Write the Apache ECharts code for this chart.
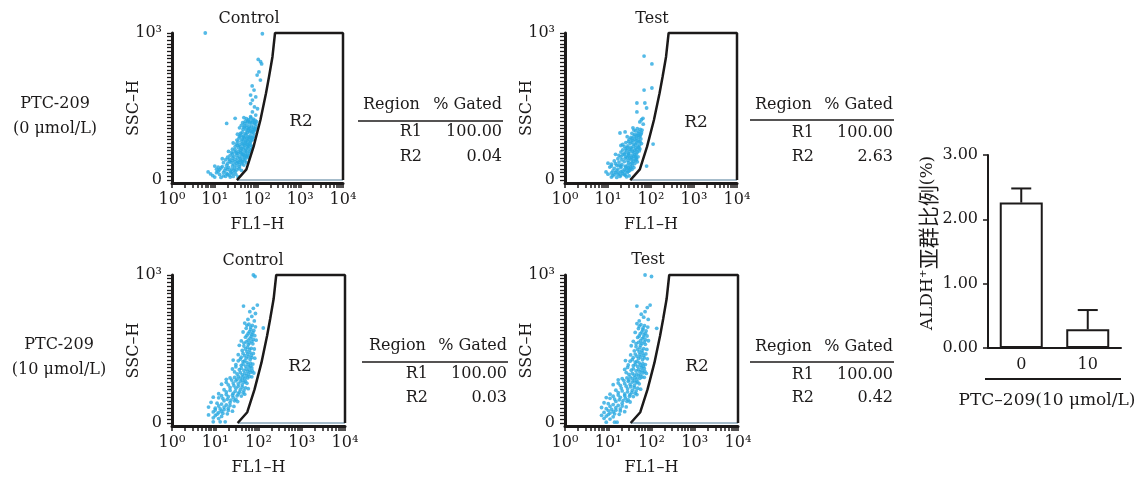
<!DOCTYPE html>
<html><head><meta charset="utf-8">
<script src="https://cdn.jsdelivr.net/npm/echarts@6/dist/echarts.min.js"></script>
<style>html,body{margin:0;padding:0;background:#fff}#c{width:1144px;height:481px}</style>
</head><body><div id="c"></div>
<script>
// ---------- data ----------
const panelTitles = ['Control', 'Test', 'Control', 'Test'];
const rowLabels = [['PTC-209', '(0 \u03bcmol/L)'], ['PTC-209', '(10 \u03bcmol/L)']];
const fl1TickLabels = ['10\u2070', '10\u00b9', '10\u00b2', '10\u00b3', '10\u2074'];
const fl1TickValues = [1, 10, 100, 1000, 10000];
const sscTickLabels = ['0', '10\u00b3'];
const sscTickValues = [0, 1000];
const gateName = 'R2';
// gate R2 polygon (FL1, SSC)
const gateR2 = [[33,0],[55,73],[81,227],[117,408],[158,590],[186,703],[224,839],[257,1000],[10000,1000],[10000,0]];
const gateBase = [[10000,0],[33,0]];
const regionNames = ['R1', 'R2'];
const gatedR1 = ['100.00', '100.00', '100.00', '100.00'];
const gatedR2 = ['0.04', '2.63', '0.03', '0.42'];

// events: [FL1-H, SSC-H]
const ctrl0 = [[6,1000],[130,995],[104,820],[118,805],[125,790],[108,735],[98,714],[117,680],[75,640],[83,612],[69,578],[91,565],[76,544],[69,520],[85,497],[100,485],[76,463],[91,442],[69,431],[30,420],[19,385],
[48,425],[55,418],[62,410],[70,422],[80,415],[88,405],[95,398],[58,395],[66,388],[75,392],[84,383],[50,384],[92,380],
[42,372],[50,366],[57,374],[64,362],[72,368],[80,358],[88,350],[46,345],[54,340],[62,348],[70,335],[78,330],[86,338],[44,325],[58,322],[66,328],[92,362],[38,355],
[34,312],[40,305],[47,300],[54,310],[60,295],[68,302],[75,290],[82,298],[37,285],[44,278],[50,288],[57,272],[64,280],[71,268],[78,275],[42,265],[35,262],[52,262],
[27,252],[32,246],[38,240],[44,250],[50,236],[56,244],[63,230],[70,238],[76,226],[30,228],[36,220],[42,214],[48,224],[54,210],[60,218],[67,205],[26,210],[40,203],[73,212],
[21,195],[25,188],[30,192],[35,180],[40,186],[46,175],[52,183],[58,170],[64,178],[23,168],[28,162],[33,170],[38,158],[44,165],[50,155],[56,160],[62,152],[20,155],
[15,145],[18,138],[22,142],[26,132],[30,140],[35,128],[40,135],[45,122],[50,130],[55,118],[16,118],[20,112],[24,120],[28,108],[33,115],[38,104],[43,110],[48,102],
[10,95],[12,88],[15,92],[18,80],[21,86],[25,75],[29,82],[33,70],[37,78],[42,66],[13,70],[17,64],[23,62],[11,74],
[7,55],[8,42],[9,30],[11,50],[13,38],[16,28],[19,45],[22,33],[27,25],[31,40],[10,20],[14,18],[24,52],[35,22],
[52,400],[60,402],[68,396],[78,404],[86,392],[45,390],[56,356],[66,352],[76,346],[84,344],[48,358],[60,336],[74,322],[82,318],[52,316],[40,318],[46,292],[56,286],[66,290],[72,284],[38,296],[48,272],[60,264],[68,258],[33,272],[46,244],[52,252],[60,240],[66,248],[34,236],[40,228],[58,226],[46,212],[52,200],[64,194],[30,206],[36,196],[44,192],[56,192],[26,178],[32,184],[42,178],[48,170],[54,164],[26,150],[34,150],[40,146],[46,142],[52,144],[22,128],[30,124],[36,120],[42,126],[19,100],[26,96],[32,96],[38,90],[14,82],[20,72],[28,66],[16,52],[20,38],[26,44],[30,58],[12,60],[18,26],[23,20]];

const test0 = [[69,843],[105,790],[69,612],[105,626],[47,524],[72,524],[79,490],[47,463],[65,420],[19,320],[25,327],[112,245],[79,95],[60,410],[55,395],[66,380],
[38,355],[48,350],[56,345],[62,340],[44,335],[52,330],[60,322],[36,318],[42,310],[50,305],[58,312],
[28,295],[34,290],[40,298],[46,285],[53,292],[58,280],[31,275],[37,270],[44,265],[50,272],[56,260],[26,255],[33,250],[40,245],[47,252],[60,248],
[20,235],[24,228],[29,232],[34,222],[39,230],[44,218],[50,225],[55,212],[22,205],[27,200],[32,210],[37,195],[42,202],[48,190],[53,198],[25,185],[30,182],
[15,175],[18,168],[22,172],[26,160],[30,166],[35,155],[40,162],[45,150],[50,158],[17,145],[21,138],[25,148],[29,132],[34,140],[39,128],[44,135],[48,124],[14,130],
[10,115],[12,108],[15,112],[18,100],[21,106],[25,95],[29,102],[33,90],[37,98],[40,85],[11,88],[14,80],[17,75],[20,85],[24,70],[28,78],[32,65],[36,72],[13,62],
[9,55],[10,40],[12,48],[13,30],[15,52],[17,38],[19,25],[22,45],[25,32],[28,50],[31,28],[12,20],[16,18],[20,58],
[40,340],[50,318],[56,300],[46,300],[36,282],[42,278],[52,262],[30,262],[36,258],[44,240],[54,238],[22,242],[28,220],[36,212],[46,206],[52,222],[26,212],[32,196],[40,188],[46,178],[20,190],[24,176],[30,176],[36,170],[42,172],[20,158],[28,152],[32,150],[38,145],[44,160],[18,122],[24,126],[30,118],[36,118],[42,112],[46,140],[16,100],[20,95],[26,88],[30,82],[34,80],[22,60],[26,62],[30,60],[18,48],[14,38],[20,34],[24,40],[27,22],[16,62],[34,110],[12,95]];

const ctrl10 = [[76,1000],[83,990],[94,797],[45,790],[76,775],[63,752],[85,740],[129,642],[70,720],[57,700],[80,690],
[48,675],[60,668],[72,660],[85,650],[52,640],[66,632],[78,625],[44,615],[58,605],[70,598],[82,590],[50,580],[64,572],[76,565],[88,560],
[40,555],[52,548],[62,540],[74,535],[36,525],[46,520],[56,512],[68,505],[80,500],[42,490],[54,482],[64,475],[76,470],[34,462],[48,455],[58,448],[70,442],[82,438],[38,432],
[26,425],[34,420],[44,415],[54,410],[65,405],[74,398],[30,395],[40,390],[50,385],[60,378],[70,372],[25,365],[36,360],[46,355],[56,348],[66,342],[78,338],[32,332],[42,326],[52,320],[62,314],[28,308],[38,303],[48,300],[70,312],
[18,295],[24,290],[30,285],[38,280],[46,275],[54,268],[14,262],[20,258],[27,252],[34,248],[42,242],[50,238],[58,232],[16,225],[22,220],[29,214],[36,208],[44,204],[12,198],[18,192],[25,188],[32,184],[40,182],[48,195],
[9,175],[12,170],[15,165],[19,160],[23,155],[28,150],[33,145],[8,140],[11,134],[14,128],[18,122],[22,118],[27,112],[7,108],[10,100],[13,95],[16,90],[20,85],[25,80],[9,75],[12,70],[15,65],[19,62],
[7,55],[10,50],[14,45],[9,35],[12,30],[9,8],[13,8],[17,8],
[54,660],[66,648],[62,618],[74,610],[54,592],[68,585],[58,560],[70,552],[46,540],[58,530],[50,500],[62,495],[44,470],[56,466],[68,458],[40,445],[52,438],[64,430],[48,420],[58,395],[44,398],[66,385],[30,380],[40,370],[52,365],[62,358],[72,352],[28,345],[38,340],[48,335],[58,330],[34,315],[44,312],[56,305],[22,305],[32,295],[42,290],[50,282],[18,275],[26,270],[34,265],[42,258],[22,240],[30,235],[38,225],[46,220],[18,210],[26,200],[34,196],[14,185],[20,178],[26,172],[30,160],[16,150],[22,138],[12,115],[16,108],[20,100],[10,88],[14,80],[11,60]];

const test10 = [[71,1000],[100,990],[93,797],[46,790],[80,780],[71,752],[58,735],[132,640],[66,715],[84,700],[52,690],
[46,672],[57,665],[69,658],[82,648],[50,638],[63,630],[75,622],[42,612],[55,603],[67,596],[79,588],[48,578],[61,570],[73,562],[85,556],
[38,552],[50,545],[60,538],[72,532],[34,522],[44,516],[54,510],[66,502],[78,497],[40,488],[52,480],[62,473],[74,467],[33,460],[46,452],[56,446],[68,440],[80,434],[36,428],
[25,422],[32,418],[42,412],[52,407],[63,402],[72,395],[29,392],[38,387],[48,382],[58,375],[68,369],[24,362],[34,357],[44,352],[54,345],[64,339],[76,335],[30,329],[40,323],[50,318],[60,311],[27,305],[36,300],[46,297],[68,309],
[17,292],[23,287],[29,282],[36,277],[44,272],[52,265],[13,259],[19,255],[26,249],[33,245],[40,239],[48,235],[56,229],[15,222],[21,217],[28,211],[35,205],[42,201],[11,195],[17,189],[24,185],[31,181],[38,179],[46,192],
[9,172],[11,167],[14,162],[18,157],[22,152],[27,147],[32,142],[8,137],[10,131],[13,125],[17,119],[21,115],[26,109],[7,105],[9,97],[12,92],[15,87],[19,82],[24,77],[8,72],[11,67],[14,62],[18,59],
[7,52],[9,47],[13,42],[8,32],[11,27],[9,6],[14,6],[16,6],
[52,655],[64,642],[60,615],[72,606],[52,588],[66,580],[56,556],[68,548],[44,536],[56,526],[48,496],[60,490],[42,466],[54,462],[66,455],[38,442],[50,435],[62,427],[46,417],[56,392],[42,395],[64,382],[28,376],[38,366],[50,361],[60,354],[70,348],[26,341],[36,336],[46,331],[56,326],[32,312],[42,308],[54,302],[21,300],[30,291],[40,286],[48,278],[17,270],[24,266],[32,261],[40,254],[20,236],[28,231],[36,221],[44,216],[17,206],[24,196],[32,192],[13,181],[19,174],[25,168],[29,156],[15,146],[21,134],[11,112],[15,104],[19,96],[10,84],[13,76],[10,57]];

const barCategories = ['0', '10'];
const barMeans = [2.26, 0.29];
const barErrors = [0.22, 0.30];
const barTickLabels = ['0.00', '1.00', '2.00', '3.00'];
const barAxisTitle = 'PTC\u2013209(10 \u03bcmol/L)';

// ---------- chart ----------
const panels = [ctrl0, test0, ctrl10, test10];
const FONT = "'DejaVu Serif','Liberation Serif',serif";
const INK = '#1c1a1a';
const DOT = '#29a9e1';

const minorTicks = [];
for (let e = 0; e < 4; e++) for (let k = 1; k < 10; k++) minorTicks.push(k * Math.pow(10, e));
minorTicks.push(10000);
const sscTicks = [];
for (let v = 0; v <= 1000; v += 25) sscTicks.push(v);

const grids = [
  {left: 172, top: 33, width: 171, height: 150},
  {left: 565, top: 33, width: 172, height: 150},
  {left: 172, top: 275, width: 173, height: 151},
  {left: 565, top: 275, width: 173, height: 151},
  {left: 988, top: 155, width: 133, height: 193}
];

const xAxes = [], yAxes = [], series = [];
for (let i = 0; i < 4; i++) {
  xAxes.push({
    type: 'log', logBase: 10, gridIndex: i, min: 1, max: 10000,
    axisLine: {show: true, onZero: false, lineStyle: {color: INK, width: 3}},
    axisTick: {show: true, customValues: minorTicks, length: 5, lineStyle: {color: INK, width: 1.5}},
    axisLabel: {customValues: fl1TickValues, showMaxLabel: true, showMinLabel: true,
      formatter: v => fl1TickLabels[Math.round(Math.log10(v))],
      fontFamily: FONT, fontSize: 16, color: INK, margin: 9},
    splitLine: {show: false},
    name: 'FL1\u2013H', nameLocation: 'middle', nameGap: 34, nameMoveOverlap: false,
    nameTextStyle: {fontFamily: FONT, fontSize: 16, color: INK}
  });
  yAxes.push({
    type: 'value', gridIndex: i, min: -20, max: 1000,
    axisLine: {show: true, onZero: false, lineStyle: {color: INK, width: 3}},
    axisTick: {show: true, customValues: sscTicks, length: 5, lineStyle: {color: INK, width: 1.3}},
    axisLabel: {customValues: sscTickValues, showMaxLabel: true, showMinLabel: true,
      formatter: v => sscTickLabels[sscTickValues.indexOf(v)],
      fontFamily: FONT, fontSize: 16, color: INK, margin: 10},
    splitLine: {show: false},
    name: 'SSC\u2013H', nameLocation: 'middle', nameRotate: 90, nameGap: 30, nameMoveOverlap: false,
    nameTextStyle: {fontFamily: FONT, fontSize: 16, color: INK}
  });
  series.push({
    type: 'scatter', xAxisIndex: i, yAxisIndex: i, data: panels[i],
    symbolSize: 3.8, itemStyle: {color: DOT}, silent: true, clip: false, z: 2
  });
  series.push({
    type: 'line', xAxisIndex: i, yAxisIndex: i, data: gateR2, symbol: 'none',
    lineStyle: {color: INK, width: 2.5}, clip: false, silent: true, z: 4
  });
  series.push({
    type: 'line', xAxisIndex: i, yAxisIndex: i, data: gateBase, symbol: 'none',
    lineStyle: {color: '#a6bccb', width: 2}, clip: false, silent: true, z: 3
  });
}

// bar chart
xAxes.push({
  type: 'category', gridIndex: 4, data: barCategories,
  axisLine: {lineStyle: {color: INK, width: 2}},
  axisTick: {alignWithLabel: true, length: 5, lineStyle: {color: INK, width: 1.5}},
  axisLabel: {fontFamily: FONT, fontSize: 16, color: INK, margin: 9}
});
yAxes.push({
  type: 'value', gridIndex: 4, min: 0, max: 3, interval: 1,
  axisLine: {show: true, lineStyle: {color: INK, width: 2}},
  axisTick: {show: true, length: 5, lineStyle: {color: INK, width: 1.5}},
  axisLabel: {formatter: v => barTickLabels[Math.round(v)], fontFamily: FONT, fontSize: 16, color: INK, margin: 10},
  splitLine: {show: false}
});
series.push({
  type: 'bar', xAxisIndex: 4, yAxisIndex: 4, data: barMeans, barWidth: 43,
  itemStyle: {color: '#ffffff', borderColor: INK, borderWidth: 2}, silent: true, z: 2
});
series.push({
  type: 'custom', xAxisIndex: 4, yAxisIndex: 4, silent: true, z: 3,
  data: barMeans.map((m, i) => [i, m, barErrors[i]]),
  renderItem: function (params, api) {
    const x = api.value(0), m = api.value(1), e = api.value(2);
    const p0 = api.coord([x, m]);
    const p1 = api.coord([x, m + e]);
    const st = {stroke: INK, lineWidth: 2};
    return {type: 'group', children: [
      {type: 'line', shape: {x1: p0[0], y1: p0[1], x2: p1[0], y2: p1[1]}, style: st},
      {type: 'line', shape: {x1: p1[0] - 10, y1: p1[1], x2: p1[0] + 10, y2: p1[1]}, style: st}
    ]};
  }
});

// ---------- free text ----------
function txt(x, y, s, align, size, family) {
  return {type: 'text', x: x, y: y, silent: true, style: {
    text: s, fill: INK, fontSize: size || 16, fontFamily: family || FONT,
    align: align || 'center', verticalAlign: 'middle',
    textAlign: align || 'center', textVerticalAlign: 'middle'}};
}
function hline(x1, x2, y, w) {
  return {type: 'line', silent: true, shape: {x1: x1, y1: y, x2: x2, y2: y}, style: {stroke: INK, lineWidth: w || 1.5}};
}
const g = [];
g.push(txt(55, 104, rowLabels[0][0]), txt(55, 129, rowLabels[0][1]));
g.push(txt(59, 345, rowLabels[1][0]), txt(59, 370, rowLabels[1][1]));
const titlePos = [[249, 19], [652, 19], [253, 261], [648, 260]];
panelTitles.forEach((t, i) => g.push(txt(titlePos[i][0], titlePos[i][1], t)));
const gatePos = [[301, 122], [696, 123], [300, 367], [697, 367]];
gatePos.forEach(p => g.push(txt(p[0], p[1], gateName, 'center', 17)));
const tables = [
  {x: 363, xv: 502, lx1: 358, yH: 105, yL: 121, y1: 132, y2: 157},
  {x: 755, xv: 893, lx1: 750, yH: 105, yL: 120, y1: 133, y2: 157},
  {x: 369, xv: 507, lx1: 362, yH: 346, yL: 362, y1: 374, y2: 398},
  {x: 755, xv: 893, lx1: 750, yH: 347, yL: 362, y1: 375, y2: 398}
];
tables.forEach((t, i) => {
  g.push(txt(t.x, t.yH, 'Region', 'left'));
  g.push(txt(t.xv, t.yH, '% Gated', 'right'));
  g.push(hline(t.lx1, t.xv + 1, t.yL, 1.5));
  g.push(txt(t.x + 59, t.y1, regionNames[0], 'right'));
  g.push(txt(t.xv, t.y1, gatedR1[i], 'right'));
  g.push(txt(t.x + 59, t.y2, regionNames[1], 'right'));
  g.push(txt(t.xv, t.y2, gatedR2[i], 'right'));
});
g.push(hline(985, 1121, 379, 2));
g.push(txt(1047, 401, barAxisTitle, 'center', 17));
// bar chart y title (rotated)
g.push({type: 'text', x: 928, y: 243, rotation: Math.PI / 2, silent: true, style: {
  text: '{a|ALDH\u207a}{c|\u4e9a\u7fa4\u6bd4\u4f8b}{a|(%)}',
  align: 'center', verticalAlign: 'middle', textAlign: 'center', textVerticalAlign: 'middle',
  rich: {
    a: {fontFamily: FONT, fontSize: 17, fill: INK, color: INK},
    c: {fontFamily: 'Noto Sans CJK SC', fontSize: 21, fill: INK, color: INK}
  }}});

const chart = echarts.init(document.getElementById('c'), null, {renderer: 'canvas'});
chart.setOption({
  animation: false,
  backgroundColor: '#ffffff',
  grid: grids,
  xAxis: xAxes,
  yAxis: yAxes,
  series: series,
  graphic: g
});
</script>
</body></html>
